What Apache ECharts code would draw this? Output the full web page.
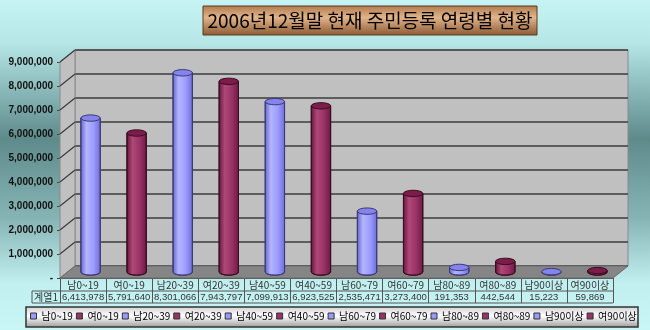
<!DOCTYPE html>
<html><head><meta charset="utf-8">
<script src="https://cdn.jsdelivr.net/npm/echarts@6/dist/echarts.min.js"></script>
<style>html,body{margin:0;padding:0;background:#c4f0f0}#c{width:650px;height:330px;}</style>
</head><body><div id="c"></div>
<script>
// ---- data ----
const titleText = '2006년12월말 현재 주민등록 연령별 현황';
const seriesName = '계열1';
const categories = ['남0~19','여0~19','남20~39','여20~39','남40~59','여40~59','남60~79','여60~79','남80~89','여80~89','남90이상','여90이상'];
const values = [6413978,5791640,8301066,7943797,7099913,6923525,2535471,3273400,191353,442544,15223,59869];
const yMax = 9000000;
const yStep = 1000000;

// ---- layout / style ----
const FX0 = 60, FX1 = 613, FY0 = 278, FY1 = 62; // front plane
const DX = 15, DY = 12;                          // depth
const BLUE = ['#6262c8','#b4b4ff','#9c9cff','#6c6cd4'];
const MAROON = ['#5e1638','#b04878','#993366','#6a1a42'];
const fmt = v => v.toLocaleString('en-US');

const chart = echarts.init(document.getElementById('c'), null, {renderer:'canvas'});

function renderCyl(params, api){
  const i = api.value(0), v = api.value(1);
  const base = api.coord([i, 0]);
  const top = api.coord([i, v]);
  const bw = api.size([1, 0])[0] * 0.42;
  const rx = bw / 2, ry = 3.2;
  const x0 = base[0] - rx, x1 = base[0] + rx, yb = base[1], yt = top[1];
  const sh = (i % 2 === 0) ? BLUE : MAROON;
  const outline = (i % 2 === 0) ? '#3a3a7a' : '#3a0c22';
  const grad = new echarts.graphic.LinearGradient(0,0,1,0,[
    {offset:0,color:sh[0]},{offset:0.3,color:sh[1]},{offset:0.65,color:sh[2]},{offset:1,color:sh[3]}]);
  const body = `M ${x0} ${yt} L ${x0} ${yb} A ${rx} ${ry} 0 0 0 ${x1} ${yb} L ${x1} ${yt} Z`;
  const cap = `M ${x0} ${yt} A ${rx} ${ry} 0 1 0 ${x1} ${yt} A ${rx} ${ry} 0 1 0 ${x0} ${yt} Z`;
  return {type:'group', children:[
    {type:'path', shape:{pathData:body}, style:{fill:grad, stroke:outline, lineWidth:1}},
    {type:'path', shape:{pathData:cap}, style:{fill:(i%2===0)?'#8484ec':'#7c1c4a', stroke:outline, lineWidth:1}}
  ]};
}

const series = categories.map((c, i) => ({
  type:'custom', name:c, xAxisIndex:2, yAxisIndex:2, z:5, clip:false,
  color: (i % 2 === 0) ? '#9999ff' : '#993366',
  renderItem: renderCyl,
  data: [[i, values[i]]]
}));

const CJK = 'Noto Sans CJK KR';
const option = {
  animation:false,
  backgroundColor: new echarts.graphic.LinearGradient(0,0,0,1,[
    {offset:0,color:'#c6f4f4'},{offset:0.13,color:'#b6e6e6'},{offset:0.42,color:'#5e8a8a'},
    {offset:0.66,color:'#86b4b4'},{offset:0.86,color:'#c2f0f0'},{offset:1,color:'#c8f6f6'}]),
  grid:[
    {left:FX0, right:650-FX1, top:FY1, bottom:330-FY0},
    {left:FX0+DX, right:650-FX1-DX, top:FY1-DY, bottom:330-FY0+DY, show:true,
     backgroundColor:'#c0c0c0', borderColor:'#8a8a8a', borderWidth:1, z:0},
    {left:FX0+DX/2, right:650-FX1-DX/2, top:FY1-DY/2, bottom:330-FY0+DY/2}
  ],
  xAxis:[
    {type:'category', gridIndex:0, data:categories, position:'bottom',
     axisLine:{lineStyle:{color:'#555',width:1}},
     axisTick:{show:true, interval:0, length:25, lineStyle:{color:'#555'}},
     axisLabel:{interval:0, margin:2, fontSize:10, color:'#333', fontFamily:CJK}},
    {type:'category', gridIndex:0, data:values.map(fmt), position:'bottom', offset:13,
     axisLine:{show:false}, axisTick:{show:false},
     axisLabel:{interval:0, margin:1, fontSize:9.5, color:'#333', fontFamily:'Liberation Sans'}},
    {type:'category', gridIndex:2, data:categories, show:false},
    {type:'category', gridIndex:1, data:categories, show:false}
  ],
  yAxis:[
    {type:'value', gridIndex:0, min:0, max:yMax, interval:yStep,
     axisLine:{show:true, lineStyle:{color:'#444'}},
     axisTick:{show:true, length:3, lineStyle:{color:'#444'}},
     splitLine:{show:false},
     axisLabel:{margin:7, fontSize:10, fontWeight:'bold', color:'#111', fontFamily:'Liberation Sans',
       formatter: v => v === 0 ? '-' : fmt(v)}},
    {type:'value', gridIndex:1, min:0, max:yMax, interval:yStep,
     axisLine:{show:false}, axisTick:{show:false}, axisLabel:{show:false},
     splitLine:{show:true, lineStyle:{color:'#3c3c3c', width:1.5}}},
    {type:'value', gridIndex:2, min:0, max:yMax, show:false}
  ],
  legend:{
    left:30, top:311, itemWidth:6, itemHeight:6, itemGap:3, icon:'rect', padding:0,
    itemStyle:{borderColor:'#333', borderWidth:1},
    textStyle:{fontSize:10, color:'#000', fontFamily:CJK},
    data: categories, z:10
  },
  series: series
};
chart.setOption(option);

// derived decoration (walls, floor, table frame, title, legend box)
const g = [];
const yAt = v => chart.convertToPixel({yAxisIndex:0}, v);
g.push({type:'polygon', z:1, shape:{points:[[FX0,FY1],[FX0+DX,FY1-DY],[FX0+DX,FY0-DY],[FX0,FY0]]},
  style:{fill:'#c0c0c0', stroke:'#8a8a8a', lineWidth:1}});
for (let v = yStep; v <= yMax; v += yStep) {
  const y = yAt(v);
  g.push({type:'line', z:1, shape:{x1:FX0,y1:y,x2:FX0+DX,y2:y-DY}, style:{stroke:'#3c3c3c', lineWidth:1.2}});
}
g.push({type:'polygon', z:2, shape:{points:[[FX0,FY0],[FX1,FY0],[FX1+DX,FY0-DY],[FX0+DX,FY0-DY]]},
  style:{fill:'#858585', stroke:'#6a6a6a', lineWidth:1}});
const R1 = 291, R2 = 303, LX = 32;
g.push({type:'line', z:3, shape:{x1:LX,y1:R1,x2:FX1,y2:R1}, style:{stroke:'#555'}});
g.push({type:'line', z:3, shape:{x1:LX,y1:R2,x2:FX1,y2:R2}, style:{stroke:'#555'}});
g.push({type:'line', z:3, shape:{x1:LX,y1:R1,x2:LX,y2:R2}, style:{stroke:'#555'}});
g.push({type:'text', z:3, style:{text:seriesName, x:(LX+FX0)/2, y:(R1+R2)/2+0.5, align:'center', verticalAlign:'middle',
  fontSize:10, fill:'#333', fontFamily:CJK}});
g.push({type:'rect', z:1, shape:{x:26,y:307,width:612,height:20},
  style:{fill:new echarts.graphic.LinearGradient(0,0,0,1,[{offset:0,color:'#cfcfcf'},{offset:0.45,color:'#ffffff'},{offset:1,color:'#9a9a9a'}]),
  stroke:'#333', lineWidth:1.5}});
g.push({type:'rect', z:1, shape:{x:203,y:6,width:334,height:29},
  style:{fill:new echarts.graphic.LinearGradient(0,0,0,1,[{offset:0,color:'#b07a4c'},{offset:0.4,color:'#e2b48a'},{offset:1,color:'#8a5a34'}]),
  stroke:'#5a3a20', lineWidth:1}});
g.push({type:'text', z:2, style:{text:titleText, x:370, y:21, align:'center', verticalAlign:'middle',
  fontSize:19, fill:'#000', fontFamily:CJK}});
chart.setOption({graphic:g});
</script></body></html>
